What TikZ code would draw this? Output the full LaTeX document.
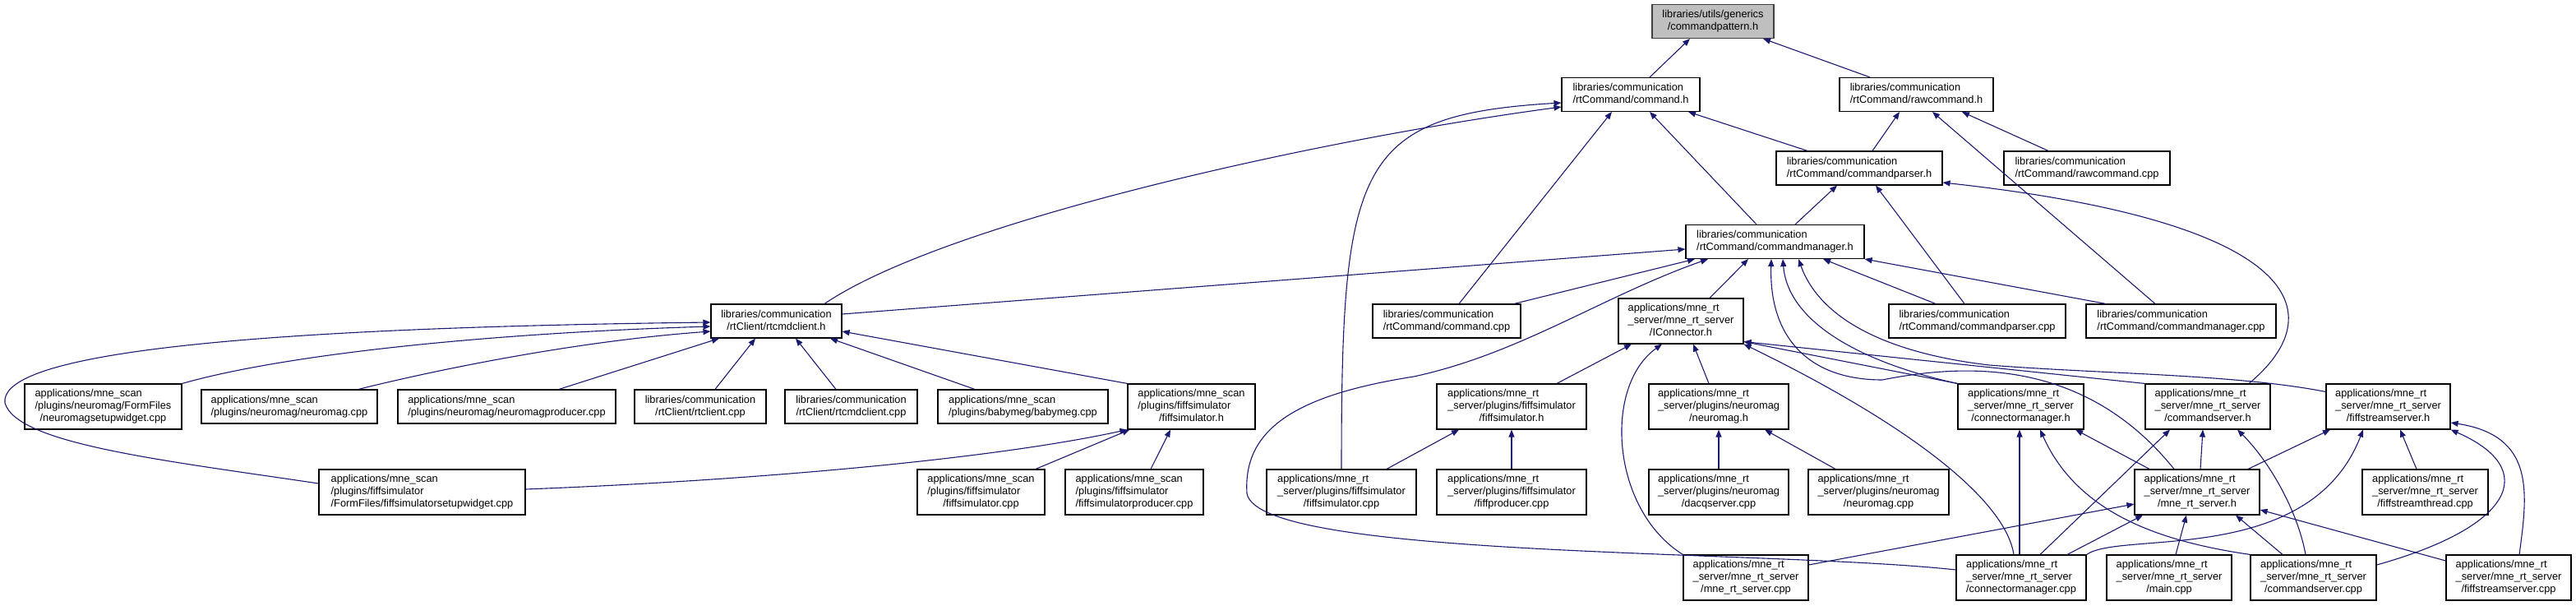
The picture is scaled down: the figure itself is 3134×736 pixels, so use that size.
\documentclass[tikz,border=0pt]{standalone}
\usepackage{fontspec}
\setmainfont{Liberation Sans}
\usepackage{tikz}
\usetikzlibrary{arrows.meta}
\definecolor{edgeblue}{HTML}{191970}
\newcommand\flab[2]{\begin{tabular}{@{}l@{}}#1\\\multicolumn{1}{@{}c@{}}{#2}\end{tabular}}

\begin{document}
\begin{tikzpicture}[
    x=1pt, y=-1pt,
    font=\fontsize{12.8}{15}\selectfont,
    >={Triangle[length=9pt,width=7pt]},
    incl/.style={draw, line width=1.1pt, fill=white, inner sep=0pt, minimum width=#1},
    two/.style={minimum height=41pt},
    three/.style={minimum height=55pt},
    root/.style={fill=black!25, draw=black!75},
    dep/.style={->, draw=edgeblue, line width=1.1pt}
  ]
    \useasboundingbox (0,0) rectangle (3134,736);

    % rows 0-3
    \node[incl=148pt, two, root] (cpat) at (2084,26) {\flab{libraries/utils/generics}{/commandpattern.h}};
    \node[incl=168pt, two] (cmdh) at (1984,115) {\flab{libraries/communication}{/rtCommand/command.h}};
    \node[incl=187pt, two] (rawh) at (2331.5,115) {\flab{libraries/communication}{/rtCommand/rawcommand.h}};
    \node[incl=202pt, two] (parserh) at (2262,204.5) {\flab{libraries/communication}{/rtCommand/commandparser.h}};
    \node[incl=202pt, two] (rawcpp) at (2539,204.5) {\flab{libraries/communication}{/rtCommand/rawcommand.cpp}};
    \node[incl=217pt, two] (mgrh) at (2159.5,294) {\flab{libraries/communication}{/rtCommand/commandmanager.h}};

    % row 4
    \node[incl=159pt, two] (rtcmdh) at (944.5,390.5) {\flab{libraries/communication}{/rtClient/rtcmdclient.h}};
    \node[incl=180pt, two] (cmdcpp) at (1760,390.5) {\flab{libraries/communication}{/rtCommand/command.cpp}};
    \node[incl=152pt, three] (iconn) at (2045,390.5) {\flab{applications/mne\_rt\\\_server/mne\_rt\_server}{/IConnector.h}};
    \node[incl=215pt, two] (parsercpp) at (2405.5,390.5) {\flab{libraries/communication}{/rtCommand/commandparser.cpp}};
    \node[incl=231pt, two] (mgrcpp) at (2653.5,390.5) {\flab{libraries/communication}{/rtCommand/commandmanager.cpp}};

    % row 5
    \node[incl=191pt, three] (nmsetup) at (125.5,494.5) {\flab{applications/mne\_scan\\/plugins/neuromag/FormFiles}{/neuromagsetupwidget.cpp}};
    \node[incl=214pt, two] (nmcpp) at (352,494.5) {\flab{applications/mne\_scan}{/plugins/neuromag/neuromag.cpp}};
    \node[incl=265pt, two] (nmprod) at (616.5,494.5) {\flab{applications/mne\_scan}{/plugins/neuromag/neuromagproducer.cpp}};
    \node[incl=160pt, two] (rtclcpp) at (852,494.5) {\flab{libraries/communication}{/rtClient/rtclient.cpp}};
    \node[incl=161pt, two] (rtcmdcpp) at (1035.5,494.5) {\flab{libraries/communication}{/rtClient/rtcmdclient.cpp}};
    \node[incl=207pt, two] (babycpp) at (1244.5,494.5) {\flab{applications/mne\_scan}{/plugins/babymeg/babymeg.cpp}};
    \node[incl=155pt, three] (fsimh) at (1449.5,494.5) {\flab{applications/mne\_scan\\/plugins/fiffsimulator}{/fiffsimulator.h}};
    \node[incl=182pt, three] (rfsimh) at (1839,494.5) {\flab{applications/mne\_rt\\\_server/plugins/fiffsimulator}{/fiffsimulator.h}};
    \node[incl=170pt, three] (nmh) at (2091,494.5) {\flab{applications/mne\_rt\\\_server/plugins/neuromag}{/neuromag.h}};
    \node[incl=153pt, three] (cmgrh) at (2458.5,494.5) {\flab{applications/mne\_rt\\\_server/mne\_rt\_server}{/connectormanager.h}};
    \node[incl=152pt, three] (csrvh) at (2686,494.5) {\flab{applications/mne\_rt\\\_server/mne\_rt\_server}{/commandserver.h}};
    \node[incl=151pt, three] (fssrvh) at (2905.5,494.5) {\flab{applications/mne\_rt\\\_server/mne\_rt\_server}{/fiffstreamserver.h}};

    % row 6
    \node[incl=251pt, three] (fsimsetup) at (513.5,598.5) {\flab{applications/mne\_scan\\/plugins/fiffsimulator}{/FormFiles/fiffsimulatorsetupwidget.cpp}};
    \node[incl=155pt, three] (fsimcpp) at (1193.5,598.5) {\flab{applications/mne\_scan\\/plugins/fiffsimulator}{/fiffsimulator.cpp}};
    \node[incl=168pt, three] (fsimprod) at (1380,598.5) {\flab{applications/mne\_scan\\/plugins/fiffsimulator}{/fiffsimulatorproducer.cpp}};
    \node[incl=182pt, three] (rfsimcpp) at (1632,598.5) {\flab{applications/mne\_rt\\\_server/plugins/fiffsimulator}{/fiffsimulator.cpp}};
    \node[incl=182pt, three] (rfprod) at (1839,598.5) {\flab{applications/mne\_rt\\\_server/plugins/fiffsimulator}{/fiffproducer.cpp}};
    \node[incl=170pt, three] (dacq) at (2091,598.5) {\flab{applications/mne\_rt\\\_server/plugins/neuromag}{/dacqserver.cpp}};
    \node[incl=171pt, three] (rnmcpp) at (2285.5,598.5) {\flab{applications/mne\_rt\\\_server/plugins/neuromag}{/neuromag.cpp}};
    \node[incl=152pt, three] (srvh) at (2673,598.5) {\flab{applications/mne\_rt\\\_server/mne\_rt\_server}{/mne\_rt\_server.h}};
    \node[incl=153pt, three] (fsthr) at (2950.5,598.5) {\flab{applications/mne\_rt\\\_server/mne\_rt\_server}{/fiffstreamthread.cpp}};

    % row 7
    \node[incl=152pt, three] (srvcpp) at (2124,702.5) {\flab{applications/mne\_rt\\\_server/mne\_rt\_server}{/mne\_rt\_server.cpp}};
    \node[incl=158pt, three] (cmgrcpp) at (2459,702.5) {\flab{applications/mne\_rt\\\_server/mne\_rt\_server}{/connectormanager.cpp}};
    \node[incl=152pt, three] (maincpp) at (2639,702.5) {\flab{applications/mne\_rt\\\_server/mne\_rt\_server}{/main.cpp}};
    \node[incl=153pt, three] (csrvcpp) at (2814.5,702.5) {\flab{applications/mne\_rt\\\_server/mne\_rt\_server}{/commandserver.cpp}};
    \node[incl=152pt, three] (fssrvcpp) at (3052,702.5) {\flab{applications/mne\_rt\\\_server/mne\_rt\_server}{/fiffstreamserver.cpp}};

    % rtCommand headers
    \draw[dep] ([xshift=23pt]cmdh.north) -- ([xshift=-28pt]cpat.south);
    \draw[dep] ([xshift=-56.5pt]rawh.north) -- ([xshift=61pt]cpat.south);
    \draw[dep] ([xshift=-63pt]parserh.north) -- ([xshift=70pt]cmdh.south);
    \draw[dep] ([xshift=16pt]parserh.north) -- ([xshift=-20.5pt]rawh.south);
    \draw[dep] ([xshift=-47pt]rawcpp.north) -- ([xshift=55.5pt]rawh.south);
    \draw[dep] ([xshift=-22.5pt]mgrh.north) -- ([xshift=23pt]cmdh.south);
    \draw[dep] ([xshift=24.5pt]mgrh.north) -- ([xshift=-27pt]parserh.south);
    \draw[dep] ([xshift=-31.5pt]mgrcpp.north) -- ([xshift=19.5pt]rawh.south);
    \draw[dep] ([xshift=-15.5pt]parsercpp.north) -- ([xshift=20pt]parserh.south);
    \draw[dep] ([xshift=50pt]csrvh.north) .. controls (2840,380) and (2800,270) .. ([yshift=-17.5pt]parserh.east);
    \draw[dep] ([xshift=58.5pt]rtcmdh.north) .. controls (1150,270) and (1600,170) .. ([yshift=-15pt]cmdh.west);
    \draw[dep] ([yshift=8.5pt]rtcmdh.east) -- ([yshift=-9pt]mgrh.west);
    \draw[dep] (rfsimcpp.north) .. controls (1632,200) and (1650,140) .. ([yshift=-10pt]cmdh.west);
    \draw[dep] ([xshift=15pt]cmdcpp.north) -- ([xshift=-23pt]cmdh.south);
    \draw[dep] ([xshift=82pt]cmdcpp.north) -- ([xshift=-97.5pt]mgrh.south);
    \draw[dep] ([xshift=35pt]iconn.north) -- ([xshift=-32.5pt]mgrh.south);
    \draw[dep] ([xshift=-50.5pt]parsercpp.north) -- ([xshift=58.5pt]mgrh.south);
    \draw[dep] ([xshift=-91.5pt]mgrcpp.north) -- (mgrh.south east);
    \draw[dep] ([yshift=9.5pt]cmgrcpp.west) .. controls (2150,668) and (1530,680) .. (1517,600)
      .. controls (1512,520) and (1580,480) .. (1720,458) .. controls (1850,430) and (1950,360) .. ([xshift=-81.5pt]mgrh.south);
    \draw[dep] ([xshift=-28pt]srvh.north) .. controls (2540,440) and (2400,440) .. (2290,462)
      .. controls (2200,462) and (2152,410) .. ([xshift=-4.5pt]mgrh.south);
    \draw[dep] (cmgrh.north west) .. controls (2260,440) and (2175,390) .. ([xshift=9.5pt]mgrh.south);
    \draw[dep] ([yshift=-10pt]fssrvh.north west) .. controls (2720,455) and (2560,455) .. (2420,444)
      .. controls (2300,430) and (2215,390) .. ([xshift=28.5pt]mgrh.south);

    % IConnector
    \draw[dep] (csrvh.north west) -- ([yshift=3pt]iconn.south east);
    \draw[dep] (cmgrh.north west) -- ([yshift=3pt]iconn.south east);
    \draw[dep] ([xshift=-9pt]cmgrcpp.north) .. controls (2440,610) and (2330,520) .. (iconn.south east);
    \draw[dep] (srvcpp.north west) .. controls (1960,620) and (1950,470) .. ([xshift=-23pt]iconn.south);
    \draw[dep] ([xshift=55pt]rfsimh.north) -- ([xshift=-60pt]iconn.south);
    \draw[dep] ([xshift=-12pt]nmh.north) -- ([xshift=15pt]iconn.south);
    \draw[dep] (dacq.north) -- (nmh.south);
    \draw[dep] ([xshift=-52.5pt]rnmcpp.north) -- ([xshift=56pt]nmh.south);
    \draw[dep] ([xshift=55pt]rfsimcpp.north) -- ([xshift=-64pt]rfsimh.south);
    \draw[dep] (rfprod.north) -- (rfsimh.south);

    % rtcmdclient
    \draw[dep] (nmsetup.north east) .. controls (350,430) and (600,405) .. ([yshift=-6.5pt]rtcmdh.west);
    \draw[dep] ([xshift=84pt]nmcpp.north) .. controls (530,450) and (700,415) .. ([yshift=-12.5pt]rtcmdh.west);
    \draw[dep] ([xshift=63.5pt]nmprod.north) -- ([xshift=-69.5pt]rtcmdh.south);
    \draw[dep] ([yshift=10.5pt]fsimsetup.west) .. controls (200,560) and (20,540) .. (6,490)
      .. controls (0,440) and (200,400) .. ([yshift=-1.5pt]rtcmdh.west);
    \draw[dep] ([xshift=18pt]rtclcpp.north) -- ([xshift=-25.5pt]rtcmdh.south);
    \draw[dep] ([xshift=-18.5pt]rtcmdcpp.north) -- ([xshift=23.5pt]rtcmdh.south);
    \draw[dep] ([xshift=-58.5pt]babycpp.north) -- ([xshift=65.5pt]rtcmdh.south);
    \draw[dep] (fsimh.north west) -- ([yshift=-12.5pt]rtcmdh.east);
    \draw[dep] ([yshift=3.5pt]fsimsetup.east) .. controls (900,585) and (1200,560) .. (fsimh.south west);
    \draw[dep] ([xshift=66.5pt]fsimcpp.north) -- ([xshift=3pt]fsimh.south west);
    \draw[dep] ([xshift=20pt]fsimprod.north) -- ([xshift=-25.5pt]fsimh.south);

    % mne_rt_server
    \draw[dep] ([xshift=-2pt]cmgrcpp.north) -- ([xshift=-1.5pt]cmgrh.south);
    \draw[dep] ([xshift=-58pt]srvh.north) -- ([xshift=66.5pt]cmgrh.south);
    \draw[dep] (csrvcpp.north west) .. controls (2640,660) and (2530,630) .. ([xshift=23.5pt]cmgrh.south);
    \draw[dep] ([xshift=23pt]cmgrcpp.north) -- ([xshift=-46pt]csrvh.south);
    \draw[dep] ([xshift=4pt]srvh.north) -- ([xshift=-6pt]csrvh.south);
    \draw[dep] ([xshift=-9.5pt]csrvcpp.north) .. controls (2795,620) and (2760,560) .. ([xshift=36pt]csrvh.south);
    \draw[dep] ([xshift=62pt]srvh.north) -- ([xshift=-70.5pt]fssrvh.south);
    \draw[dep] (cmgrcpp.north east) .. controls (2580,645) and (2810,690) .. ([xshift=-30.5pt]fssrvh.south);
    \draw[dep] ([xshift=-10.5pt]fsthr.north) -- ([xshift=14.5pt]fssrvh.south);
    \draw[dep] ([yshift=15.5pt]csrvcpp.east) .. controls (3060,640) and (3090,570) .. (fssrvh.south east);
    \draw[dep] ([xshift=13pt]fssrvcpp.north) .. controls (3075,600) and (3085,530) .. ([yshift=-19.5pt]fssrvh.east);
    \draw[dep] ([yshift=15.5pt]srvcpp.east) -- ([yshift=-14.5pt]srvh.west);
    \draw[dep] ([xshift=56pt]cmgrcpp.north) -- ([xshift=-66pt]srvh.south);
    \draw[dep] ([xshift=8pt]maincpp.north) -- ([xshift=-13pt]srvh.south);
    \draw[dep] ([xshift=-37.5pt]csrvcpp.north) -- ([xshift=47pt]srvh.south);
    \draw[dep] ([yshift=20.5pt]fssrvcpp.west) -- ([yshift=-21.5pt]srvh.east);
\end{tikzpicture}
\end{document}
